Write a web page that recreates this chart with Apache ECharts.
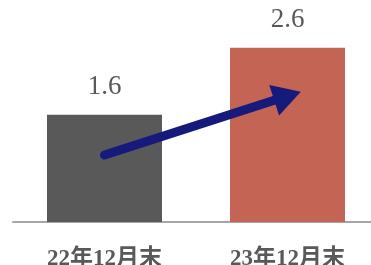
<!DOCTYPE html>
<html>
<head>
<meta charset="utf-8">
<script src="https://cdn.jsdelivr.net/npm/echarts@6/dist/echarts.min.js"></script>
<style>
  html, body { margin: 0; padding: 0; background: #fff; }
  #chart { width: 371px; height: 265px; }
</style>
</head>
<body>
<div id="chart"></div>
<script>
// 期末ごとの値
const categories = ['22年12月末', '23年12月末'];
const values = [1.6, 2.6];
const barColors = ['#595959', '#c36454'];
// 矢印の始点・終点（カテゴリ番号, 値）
const arrowFrom = [0, 1.0];
const arrowTo = [1, 1.88];

const chart = echarts.init(document.getElementById('chart'));

const option = {
  animation: false,
  grid: { top: 21, bottom: 43, left: 13, width: 366, outerBoundsMode: 'none', containLabel: false },
  xAxis: {
    type: 'category',
    data: categories,
    axisLine: { lineStyle: { color: '#a6a6a6', width: 2 } },
    axisTick: { show: false },
    axisLabel: {
      color: '#595959',
      fontSize: 23,
      fontWeight: 'bold',
      fontFamily: "'Liberation Serif', 'Noto Sans CJK JP'",
      margin: 26
    }
  },
  yAxis: {
    type: 'value',
    min: 0,
    max: 3,
    show: false
  },
  series: [
    {
      type: 'bar',
      barWidth: 115,
      data: values.map((v, i) => ({ value: v, itemStyle: { color: barColors[i] } })),
      label: {
        show: true,
        position: 'top',
        distance: 14,
        color: '#595959',
        fontSize: 27,
        fontFamily: "'Liberation Serif', serif"
      },
      markLine: {
        silent: true,
        symbol: ['none', 'triangle'],
        symbolSize: [32, 28],
        label: { show: false },
        lineStyle: { color: '#161a7b', width: 9, type: 'solid', cap: 'round' },
        data: [[{ coord: arrowFrom }, { coord: arrowTo }]]
      }
    }
  ]
};

chart.setOption(option);
</script>
</body>
</html>
